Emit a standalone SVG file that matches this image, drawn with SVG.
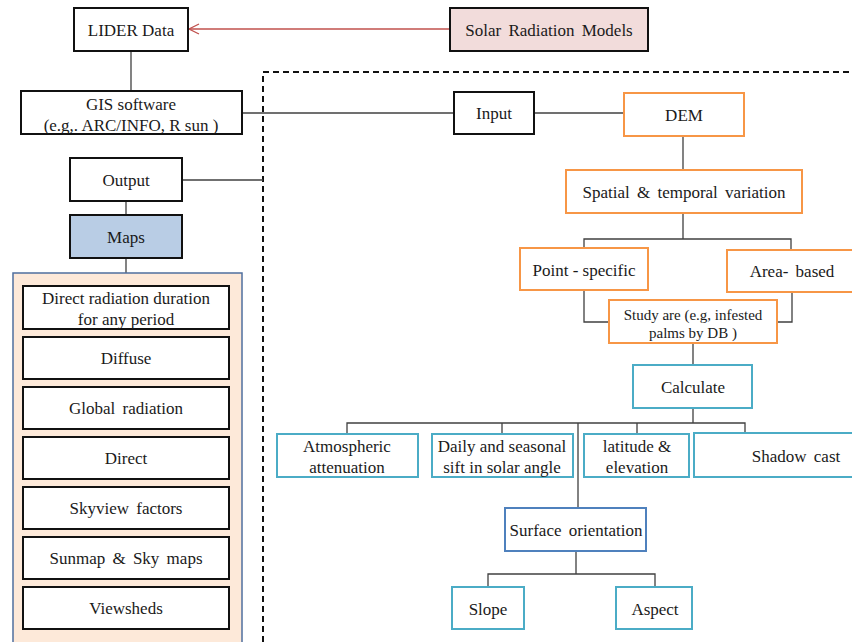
<svg xmlns="http://www.w3.org/2000/svg" width="852" height="642" viewBox="0 0 852 642">
<defs>
<style>
text{font-family:"Liberation Serif","Times New Roman",serif;font-size:17px;fill:#1a1a1a;text-anchor:middle;dominant-baseline:central}
.blk{fill:#fff;stroke:#111;stroke-width:2}
.org{fill:#fff;stroke:#f79646;stroke-width:2}
.cyn{fill:#fff;stroke:#4bacc6;stroke-width:2}
.blu{fill:#fff;stroke:#4f81bd;stroke-width:2}
.con{fill:none;stroke:#404040;stroke-width:1.3}
.sm{font-size:15px}
.ws{word-spacing:3px}
</style>
</defs>
<rect width="852" height="642" fill="#fff"/>

<g id="dashed-frame">
<path d="M263,642 V72 H852" fill="none" stroke="#111" stroke-width="2" stroke-dasharray="6,4"/>
</g>

<g id="connectors">
<line x1="450" y1="29" x2="189" y2="29" stroke="#c0504d" stroke-width="1.3"/>
<path d="M199,24 L189,29 L199,34" fill="none" stroke="#c0504d" stroke-width="1.3"/>
<line class="con" x1="131" y1="51" x2="131" y2="91"/>
<line class="con" x1="242" y1="113" x2="454" y2="113"/>
<line class="con" x1="534" y1="113" x2="624" y2="113"/>
<line class="con" x1="182" y1="180" x2="263" y2="180"/>
<line class="con" x1="126" y1="201" x2="126" y2="215"/>
<line class="con" x1="126" y1="258" x2="126" y2="286"/>
<line class="con" x1="683" y1="136" x2="683" y2="170"/>
<path class="con" d="M683,213 V239 M584,248 V239 H791 V250"/>
<path class="con" d="M584,290 V322 H609 M792,292 V322 H777"/>
<line class="con" x1="693" y1="343" x2="693" y2="365"/>
<path class="con" d="M693,408 V423 M347,434 V423 H745 V433 M502,423 V434 M637,423 V434 M578,423 V508"/>
<path class="con" d="M576,551 V574 M488,587 V574 H655 V587"/>
</g>

<g id="lider"><rect class="blk" x="74" y="8" width="114" height="43"/><text x="131" y="30">LIDER Data</text></g>
<g id="solar"><rect x="450" y="8" width="198" height="43" fill="#f2dcdb" stroke="#111" stroke-width="2"/><text class="ws" x="549" y="30">Solar Radiation Models</text></g>
<g id="gis"><rect class="blk" x="21" y="91" width="221" height="43"/><text x="131" y="104">GIS software</text><text x="131" y="125">(e.g,. ARC/INFO, R sun )</text></g>
<g id="input"><rect class="blk" x="454" y="92" width="80" height="42"/><text x="494" y="113">Input</text></g>
<g id="output"><rect class="blk" x="70" y="158" width="112" height="43"/><text x="126" y="180">Output</text></g>
<g id="maps"><rect x="70" y="215" width="112" height="43" fill="#b9cde5" stroke="#111" stroke-width="2"/><text x="126" y="237">Maps</text></g>

<g id="maps-panel">
<rect x="13" y="273" width="229" height="380" fill="#fde9d9" stroke="#4f6f9f" stroke-width="1.5"/>
</g>
<g id="m1"><rect class="blk" x="23" y="286" width="206" height="43"/><text x="126" y="298">Direct radiation duration</text><text x="126" y="319">for any period</text></g>
<g id="m2"><rect class="blk" x="23" y="337" width="206" height="42"/><text x="126" y="358">Diffuse</text></g>
<g id="m3"><rect class="blk" x="23" y="387" width="206" height="42"/><text class="ws" x="126" y="408">Global radiation</text></g>
<g id="m4"><rect class="blk" x="23" y="437" width="206" height="42"/><text x="126" y="458">Direct</text></g>
<g id="m5"><rect class="blk" x="23" y="487" width="206" height="42"/><text class="ws" x="126" y="508">Skyview factors</text></g>
<g id="m6"><rect class="blk" x="23" y="537" width="206" height="42"/><text class="ws" x="126" y="558">Sunmap &amp; Sky maps</text></g>
<g id="m7"><rect class="blk" x="23" y="587" width="206" height="42"/><text x="126" y="608">Viewsheds</text></g>

<g id="dem"><rect class="org" x="624" y="93" width="120" height="43"/><text x="684" y="115">DEM</text></g>
<g id="spatial"><rect class="org" x="566" y="170" width="236" height="43"/><text class="ws" x="684" y="192">Spatial &amp; temporal variation</text></g>
<g id="point"><rect class="org" x="520" y="248" width="128" height="42"/><text x="584" y="270">Point - specific</text></g>
<g id="area"><rect class="org" x="727" y="250" width="130" height="42"/><text class="ws" x="792" y="271">Area- based</text></g>
<g id="study"><rect class="org" x="609" y="300" width="168" height="43"/><text class="sm" x="693" y="315">Study are (e.g, infested</text><text class="sm" x="693" y="333">palms by DB )</text></g>
<g id="calculate"><rect class="cyn" x="633" y="365" width="119" height="43"/><text x="693" y="387">Calculate</text></g>
<g id="atmos"><rect class="cyn" x="277" y="434" width="141" height="43"/><text x="347" y="446">Atmospheric</text><text x="347" y="467">attenuation</text></g>
<g id="daily"><rect class="cyn" x="432" y="434" width="141" height="43"/><text x="502" y="446">Daily and seasonal</text><text x="502" y="467">sift in solar angle</text></g>
<g id="latitude"><rect class="cyn" x="584" y="434" width="105" height="43"/><text x="637" y="446">latitude &amp;</text><text x="637" y="467">elevation</text></g>
<g id="shadow"><rect class="cyn" x="694" y="433" width="165" height="44"/><text class="ws" x="796" y="456">Shadow cast</text></g>
<g id="surface"><rect class="blu" x="505" y="508" width="141" height="43"/><text class="ws" x="576" y="530">Surface orientation</text></g>
<g id="slope"><rect class="cyn" x="452" y="587" width="72" height="42"/><text x="488" y="609">Slope</text></g>
<g id="aspect"><rect class="cyn" x="616" y="587" width="76" height="42"/><text x="655" y="609">Aspect</text></g>
</svg>
